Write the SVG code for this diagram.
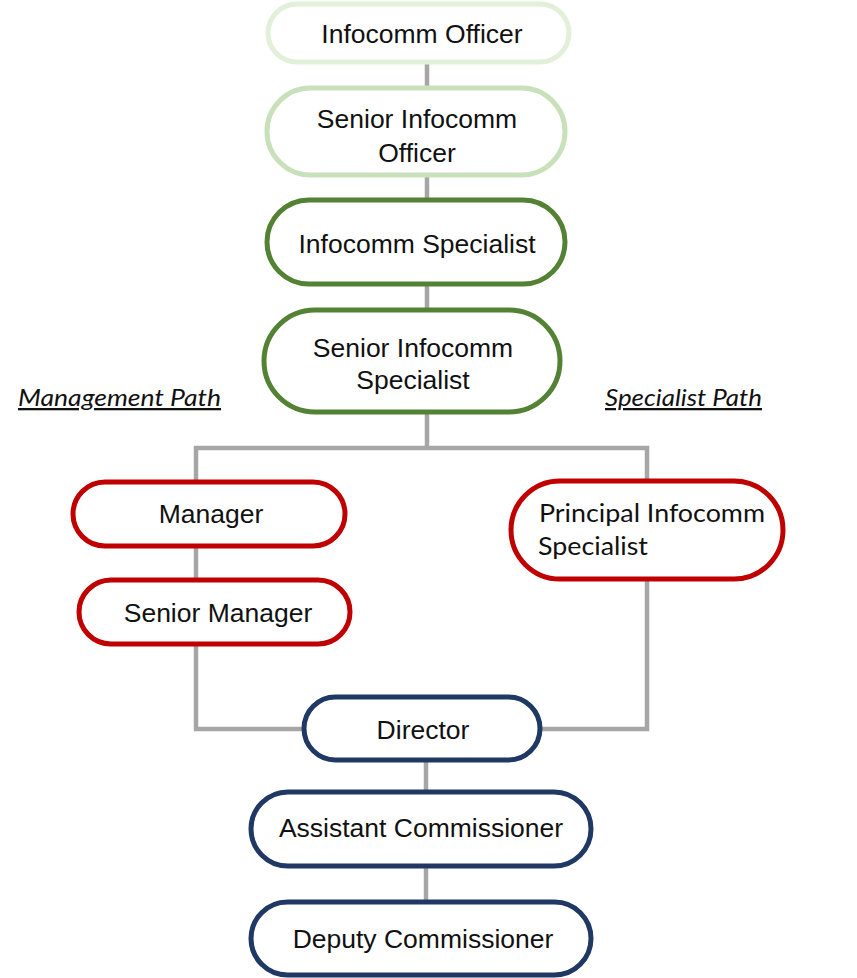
<svg xmlns="http://www.w3.org/2000/svg" width="857" height="978" viewBox="0 0 857 978">
<style>
.n rect{fill:#fff;stroke-width:5}
.t{font-family:"Liberation Sans",Arial,sans-serif;font-size:26.5px;fill:#111;text-anchor:middle}
.c{font-family:Lato,"Open Sans",sans-serif;font-size:25px;fill:#111}
.lbl{font-family:Lato,"Open Sans",sans-serif;font-size:23px;font-style:italic;fill:#111;text-decoration:underline}
.g1 rect{stroke:#e2efd9}
.g2 rect{stroke:#c9e1bb}
.g3 rect{stroke:#548235}
.r rect{stroke:#c00000}
.b rect{stroke:#1f3864}
#connectors path{fill:none;stroke:#a6a6a6;stroke-width:4.5}
</style>
<rect width="857" height="978" fill="#fff"/>
<g id="connectors">
<path d="M427 62V90M427 176V200M427 284V310M427 413V448H196V729H305M427 448H647V729H540M426 760V794M426 866V904"/>
</g>
<g id="n1" class="n g1"><rect x="268" y="4" width="301" height="58" rx="29"/><text class="t" x="422" y="43">Infocomm Officer</text></g>
<g id="n2" class="n g2"><rect x="267" y="88" width="298" height="87" rx="43.5"/><text class="t" x="417" y="128">Senior Infocomm</text><text class="t" x="417" y="162">Officer</text></g>
<g id="n3" class="n g3"><rect x="267" y="200" width="298" height="84" rx="42"/><text class="t" x="417" y="253">Infocomm Specialist</text></g>
<g id="n4" class="n g3"><rect x="264" y="310" width="296" height="102" rx="51"/><text class="t" x="413" y="357">Senior Infocomm</text><text class="t" x="413" y="389">Specialist</text></g>
<text class="lbl" x="18" y="406" textLength="203" lengthAdjust="spacingAndGlyphs">Management Path</text>
<text class="lbl" x="605" y="406" textLength="157" lengthAdjust="spacingAndGlyphs">Specialist Path</text>
<g id="n5" class="n r"><rect x="73" y="482" width="272" height="64" rx="32"/><text class="t" x="211" y="523">Manager</text></g>
<g id="n6" class="n r"><rect x="79" y="580" width="271" height="64" rx="32"/><text class="t" x="218" y="622">Senior Manager</text></g>
<g id="n7" class="n r"><rect x="511" y="481" width="272" height="98" rx="49"/><text class="c" x="539" y="522" textLength="226" lengthAdjust="spacingAndGlyphs">Principal Infocomm</text><text class="c" x="538" y="555" textLength="110" lengthAdjust="spacingAndGlyphs">Specialist</text></g>
<g id="n8" class="n b"><rect x="304" y="697" width="236" height="63" rx="31.5"/><text class="t" x="423" y="739">Director</text></g>
<g id="n9" class="n b"><rect x="251" y="792" width="340" height="74" rx="37"/><text class="t" x="421" y="837">Assistant Commissioner</text></g>
<g id="n10" class="n b"><rect x="251" y="902" width="340" height="73" rx="36.5"/><text class="t" x="423" y="948">Deputy Commissioner</text></g>
</svg>
